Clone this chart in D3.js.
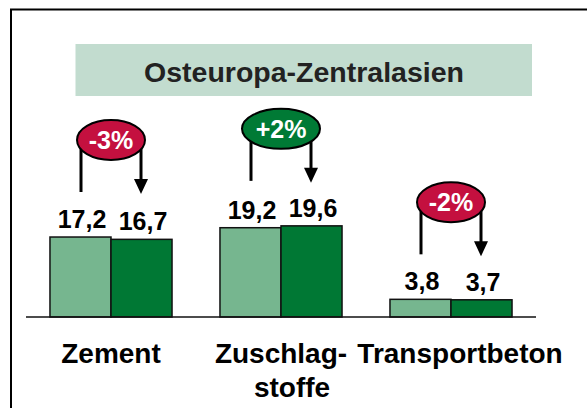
<!DOCTYPE html>
<html>
<head>
<meta charset="utf-8">
<script src="https://cdn.jsdelivr.net/npm/d3@7"></script>
<style>
  html, body { margin: 0; padding: 0; background: #fff; }
  svg { display: block; font-family: "Liberation Sans", Arial, sans-serif; }
</style>
</head>
<body>
<svg id="chart"></svg>
<script>
// --- data ---
const categories = ["Zement", "Zuschlagstoffe", "Transportbeton"];
const categoryLines = [["Zement"], ["Zuschlag-", "stoffe"], ["Transportbeton"]];
const prevValues = [17.2, 19.2, 3.8];
const currValues = [16.7, 19.6, 3.7];
const changeLabels = ["-3%", "+2%", "-2%"];
const titleText = "Osteuropa-Zentralasien";

// --- setup ---
const width = 587, height = 408;
const svg = d3.select("#chart").attr("width", width).attr("height", height);

const lightGreen = "#76b68f", darkGreen = "#007834";
const redOval = "#c4103f", greenOval = "#007a35";

const de = d3.formatLocale({decimal: ",", thousands: ".", grouping: [3], currency: ["", "€"]});
const fmt = de.format(".1f");

// frame (runs off the right and bottom edge)
svg.append("rect")
   .attr("x", 11).attr("y", 9.5)
   .attr("width", 620).attr("height", 430)
   .attr("fill", "none").attr("stroke", "#000").attr("stroke-width", 2);

// title box
svg.append("rect")
   .attr("x", 75.5).attr("y", 44).attr("width", 456.5).attr("height", 52)
   .attr("fill", "#c2dccf");
svg.append("text")
   .attr("x", 304).attr("y", 82)
   .attr("text-anchor", "middle")
   .attr("font-size", 28.5).attr("font-weight", "bold")
   .attr("fill", "#222")
   .text(titleText);

// scales
const x = d3.scaleBand().domain(categories).range([26, 536])
            .paddingInner(0.282).paddingOuter(0.141);
const sub = d3.scaleBand().domain(["prev", "curr"]).range([0, x.bandwidth()]);
const y = d3.scaleLinear().domain([0, 20]).range([317, 224]);

const rows = categories.map((c, i) => ({
    cat: c, lines: categoryLines[i],
    prev: prevValues[i], curr: currValues[i], change: changeLabels[i]
}));

// --- bars ---
const g = svg.append("g");
rows.forEach(d => {
    [["prev", d.prev, lightGreen], ["curr", d.curr, darkGreen]].forEach(([k, v, col]) => {
        const bx = x(d.cat) + sub(k);
        g.append("rect")
         .attr("x", bx).attr("y", y(v))
         .attr("width", sub.bandwidth()).attr("height", y(0) - y(v))
         .attr("fill", col).attr("stroke", "#111").attr("stroke-width", 1.5);
        g.append("text")
         .attr("x", bx + sub.bandwidth() / 2 + 1.5).attr("y", y(v) - 9)
         .attr("text-anchor", "middle")
         .attr("font-size", 25).attr("font-weight", "bold")
         .text(fmt(v));
    });
});

// baseline
svg.append("line")
   .attr("x1", 26).attr("x2", 536)
   .attr("y1", y(0)).attr("y2", y(0))
   .attr("stroke", "#111").attr("stroke-width", 1.5);

// --- change ovals with arrows ---
rows.forEach(d => {
    const cx = x(d.cat) + x.bandwidth() / 2;
    const top = y(Math.max(d.prev, d.curr));
    const cy = top - 97;
    const lx = cx - 30, rx = cx + 30;
    const tip = top - 43;
    const a = svg.append("g");
    a.append("line").attr("x1", lx).attr("x2", lx).attr("y1", cy).attr("y2", top - 45)
     .attr("stroke", "#000").attr("stroke-width", 3);
    a.append("line").attr("x1", rx).attr("x2", rx).attr("y1", cy).attr("y2", tip - 12)
     .attr("stroke", "#000").attr("stroke-width", 3);
    a.append("path")
     .attr("d", `M${rx - 7},${tip - 15}L${rx + 7},${tip - 15}L${rx},${tip}Z`)
     .attr("fill", "#000");
    const up = d.change.startsWith("+");
    a.append("ellipse")
     .attr("cx", cx).attr("cy", cy)
     .attr("rx", up ? 39 : 34).attr("ry", 20)
     .attr("fill", up ? greenOval : redOval)
     .attr("stroke", "#000").attr("stroke-width", 2);
    a.append("text")
     .attr("x", cx).attr("y", cy + 9)
     .attr("text-anchor", "middle")
     .attr("font-size", 25).attr("font-weight", "bold")
     .attr("fill", "#fff")
     .text(d.change);
});

// --- category labels ---
const labelShift = [0, 0, 9];
rows.forEach((d, i) => {
    const cx = x(d.cat) + x.bandwidth() / 2 + labelShift[i];
    const t = svg.append("text")
        .attr("text-anchor", "middle")
        .attr("font-size", 28).attr("font-weight", "bold");
    d.lines.forEach((ln, j) => {
        t.append("tspan")
         .attr("x", cx + (j > 0 ? 11 : 0))
         .attr("y", y(0) + 46 + j * 34)
         .text(ln);
    });
});
</script>
</body>
</html>
